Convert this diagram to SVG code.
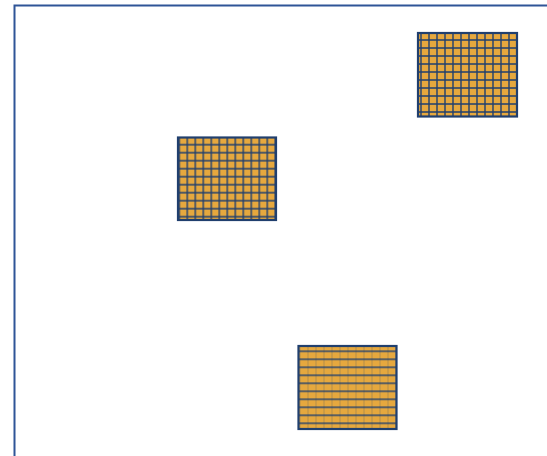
<svg xmlns="http://www.w3.org/2000/svg" width="547" height="456" viewBox="0 0 547 456">
<style>
.frame{fill:none;stroke:#2F5597;stroke-width:2}
.box{stroke:#203F6E;stroke-width:2.2}
.grid{stroke:#203F6E;stroke-width:1.4;fill:none}
.faint{stroke:#203F6E;stroke-opacity:0.25;stroke-width:1;fill:none}
</style>
<defs>
<pattern id="g1" patternUnits="userSpaceOnUse" x="186.3" y="143.7" width="8" height="8">
<rect width="8" height="8" fill="#E6A83E"/>
<path d="M1 0V8M0 1H8" class="grid"/>
</pattern>
<pattern id="g2" patternUnits="userSpaceOnUse" x="420" y="39" width="8" height="8">
<rect width="8" height="8" fill="#E6A83E"/>
<path d="M1 0V8M0 1H8" class="grid"/>
</pattern>
<pattern id="g3" patternUnits="userSpaceOnUse" x="307" y="350.3" width="8" height="8">
<rect width="8" height="8" fill="#E6A83E"/>
<path d="M1 0V8" class="faint"/>
<path d="M0 1H8" class="grid"/>
</pattern>
</defs>
<g id="frame">
<path d="M14.5 456V5.5H547" class="frame"/>
</g>
<g id="block1">
<rect x="178" y="137.5" width="98" height="82.5" fill="url(#g1)" class="box"/>
</g>
<g id="block2">
<rect x="418" y="33" width="99" height="83.5" fill="url(#g2)" class="box"/>
</g>
<g id="block3">
<rect x="298.5" y="346" width="98" height="83" fill="url(#g3)" class="box"/>
</g>
<g id="connectors"></g>
</svg>
